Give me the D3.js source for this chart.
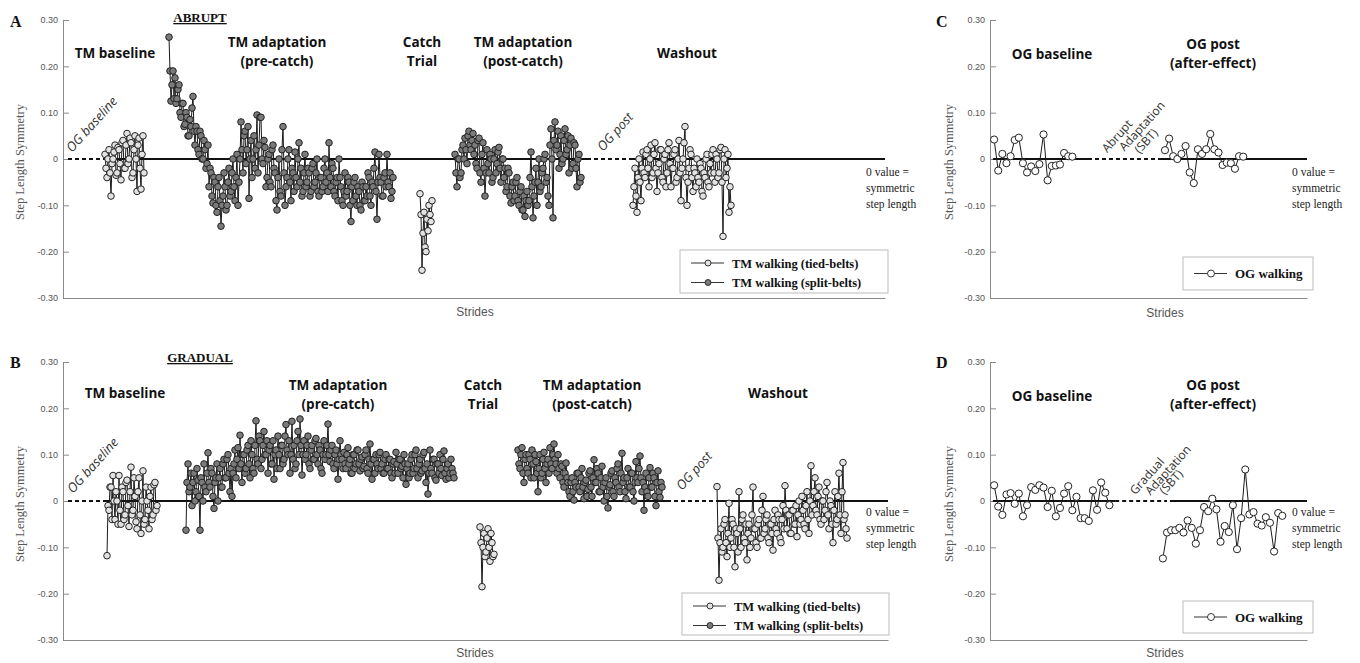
<!DOCTYPE html>
<html><head><meta charset="utf-8">
<script src="https://cdn.jsdelivr.net/npm/d3@7"></script>
<style>body{margin:0;background:#fff}svg{display:block}</style>
</head><body><svg id="c" width="1360" height="663"></svg>
<script>
// ---------- tick labels ----------
const yTicks = [0.30, 0.20, 0.10, 0, -0.10, -0.20, -0.30];
const yTickLabels = ["0.30", "0.20", "0.10", "0", "-0.10", "-0.20", "-0.30"];

// ---------- Panel A (abrupt), stride index where each block starts ----------
const aStarts = {baseline: 42, adapt: 106, catchT: 357, post: 392, washout: 570};
const aBaseline = [0.01,-0.02,-0.04,0.0,0.02,-0.03,-0.08,-0.01,0.0,0.015,0.03,-0.035,-0.03,0.025,0.02,-0.01,-0.045,0.035,0.04,-0.02,
  -0.02,0.03,0.055,-0.01,0.0,0.045,0.035,-0.04,-0.03,0.02,0.05,0.0,-0.07,0.03,0.045,-0.02,-0.065,0.01,0.05,-0.03];
const aAdapt = [0.263,0.19,0.125,0.16,0.19,0.13,0.175,0.12,0.13,0.15,0.16,0.1,0.09,0.12,0.12,0.07,0.075,0.1,0.09,0.05,
  0.05,0.085,0.07,0.11,0.135,0.06,0.03,0.07,0.06,0.02,0.01,0.06,0.05,0.0,0.0,0.04,0.02,-0.02,-0.01,0.03,
  -0.06,-0.02,-0.03,-0.08,-0.095,-0.04,-0.05,-0.1,-0.115,-0.06,-0.04,-0.09,-0.145,-0.1,-0.08,-0.03,-0.06,-0.11,-0.1,-0.05,
  -0.02,-0.08,-0.07,-0.03,0.0,-0.06,-0.09,-0.04,0.01,-0.1,-0.05,0.0,0.08,0.02,-0.03,0.05,0.06,-0.01,0.02,0.07,
  -0.085,0.0,0.04,-0.04,0.0,0.05,-0.02,0.02,0.095,-0.03,0.03,0.09,0.09,0.0,-0.01,0.04,0.025,-0.06,-0.04,0.0,
  0.01,-0.05,-0.06,0.02,0.03,-0.02,-0.03,-0.09,-0.11,-0.04,0.0,-0.07,-0.08,0.02,0.07,-0.03,-0.1,-0.06,-0.04,0.0,
  0.02,-0.05,-0.09,-0.02,-0.03,-0.07,0.015,-0.04,-0.06,0.0,0.035,-0.05,-0.02,-0.08,-0.07,-0.03,0.01,-0.06,-0.05,-0.02,
  -0.03,-0.08,-0.07,-0.02,-0.01,-0.06,-0.05,-0.03,0.0,-0.07,-0.08,-0.04,-0.04,-0.07,-0.06,-0.02,0.0,-0.05,-0.03,-0.07,
  0.035,-0.04,-0.06,-0.01,-0.02,-0.07,-0.08,-0.05,-0.04,-0.09,0.0,-0.04,-0.06,-0.09,-0.1,-0.07,-0.03,-0.08,-0.07,-0.04,
  -0.05,-0.1,-0.135,-0.06,-0.09,-0.05,-0.04,-0.08,-0.1,-0.06,-0.07,-0.1,-0.11,-0.05,-0.06,-0.09,-0.09,-0.06,-0.08,-0.03,
  -0.04,-0.08,-0.1,-0.05,-0.06,-0.02,0.015,-0.07,-0.13,-0.05,0.01,-0.04,-0.05,-0.08,-0.08,-0.04,-0.03,-0.06,0.01,-0.05,
  -0.06,-0.03,-0.085,-0.07,-0.04];
const aCatch = [-0.075,-0.12,-0.24,-0.16,-0.115,-0.19,-0.2,-0.13,-0.155,-0.1,-0.12,-0.135,-0.09];
const aPost = [0.01,-0.03,-0.06,0.0,0.0,-0.04,-0.03,0.02,0.03,0.0,0.045,0.02,-0.01,0.05,0.06,0.03,0.02,0.04,0.055,0.01,
  0.03,-0.01,-0.02,0.04,0.045,-0.03,-0.05,0.01,0.035,-0.02,-0.08,-0.03,0.02,-0.01,-0.03,0.01,0.0,-0.05,-0.04,0.0,
  0.02,-0.03,-0.01,0.015,0.025,-0.02,-0.05,0.0,0.0,-0.04,-0.02,-0.07,-0.06,-0.02,-0.03,-0.08,-0.095,-0.06,-0.05,-0.09,
  -0.08,-0.05,-0.04,-0.09,-0.1,-0.07,-0.06,-0.11,-0.11,-0.08,-0.124,-0.09,-0.07,-0.1,-0.09,-0.04,0.015,-0.06,-0.127,-0.08,
  -0.05,-0.02,-0.1,-0.05,0.0,-0.07,-0.06,-0.03,-0.02,0.0,0.01,-0.05,-0.04,-0.08,-0.1,0.03,0.065,0.0,-0.127,0.04,
  0.08,0.02,0.03,0.06,-0.02,0.01,0.05,-0.01,0.0,0.04,0.065,0.01,0.02,0.05,-0.03,0.03,0.045,-0.02,-0.01,0.035,
  0.03,-0.02,-0.06,0.0,0.01,-0.05,-0.04];
const aWashout = [-0.1,-0.06,-0.02,-0.08,-0.115,-0.04,0.0,-0.05,-0.09,-0.02,0.015,-0.03,-0.04,0.01,0.02,-0.02,-0.06,0.0,0.03,-0.04,
  -0.03,0.01,0.035,-0.02,-0.07,-0.03,-0.01,0.02,0.02,-0.04,-0.05,0.0,0.01,-0.06,-0.03,0.02,0.035,-0.01,-0.06,-0.02,
  -0.02,0.01,0.02,-0.05,-0.04,0.0,0.04,-0.03,-0.09,-0.02,0.0,0.035,0.07,-0.04,-0.1,-0.05,-0.02,0.02,0.01,-0.04,
  -0.07,-0.02,-0.03,-0.06,0.0,-0.04,-0.05,-0.01,-0.02,-0.07,-0.08,-0.03,-0.04,0.0,0.01,-0.05,-0.06,-0.01,-0.03,0.01,
  0.02,-0.03,-0.05,0.01,0.0,-0.04,-0.03,0.02,0.025,-0.05,-0.167,0.0,0.02,-0.04,-0.02,0.01,-0.115,-0.06,-0.1];

// ---------- Panel B (gradual) ----------
const bStarts = {baseline: 44, adapt: 123, catchT: 417, post: 455, washout: 654};
const bBaseline = [-0.118,-0.01,-0.02,0.03,0.03,-0.04,0.055,0.0,-0.04,0.02,0.0,-0.05,0.055,-0.02,-0.05,0.03,0.02,-0.04,-0.03,0.04,
  0.045,-0.01,-0.055,0.02,0.073,-0.03,-0.02,0.05,0.01,-0.045,-0.06,0.02,0.05,-0.03,-0.07,0.0,0.065,-0.05,-0.04,0.03,
  0.0,-0.02,-0.06,0.01,0.03,-0.04,-0.03,0.035,0.04,-0.02,-0.01];
const bAdapt = [-0.063,0.04,0.08,0.02,0.03,0.06,-0.01,0.04,0.06,0.0,0.02,0.07,0.045,0.01,-0.063,0.05,0.04,0.0,0.08,0.03,
  0.02,0.06,0.104,0.04,0.03,0.07,0.06,0.01,-0.016,0.04,0.05,0.08,0.0,0.05,0.07,0.03,0.03,0.08,0.09,0.05,
  0.05,0.09,0.1,0.06,0.02,0.07,0.01,0.06,0.08,0.11,0.05,0.09,0.115,0.07,0.142,0.08,0.04,0.1,0.1,0.06,
  0.07,0.11,0.12,0.08,0.05,0.13,0.1,0.07,0.06,0.12,0.173,0.09,0.08,0.14,0.13,0.07,0.09,0.12,0.15,0.1,
  0.1,0.13,0.06,0.11,0.12,0.08,0.08,0.13,0.047,0.1,0.11,0.07,0.14,0.1,0.07,0.12,0.12,0.08,0.09,0.14,
  0.165,0.11,0.1,0.13,0.06,0.1,0.172,0.09,0.12,0.07,0.08,0.13,0.15,0.1,0.177,0.12,0.056,0.1,0.13,0.09,
  0.1,0.12,0.14,0.08,0.07,0.11,0.12,0.09,0.09,0.13,0.135,0.1,0.08,0.12,0.11,0.07,0.06,0.1,0.13,0.09,
  0.1,0.12,0.166,0.1,0.085,0.11,0.12,0.08,0.07,0.1,0.11,0.08,0.047,0.09,0.13,0.1,0.09,0.07,0.105,0.08,
  0.07,0.1,0.115,0.08,0.09,0.06,0.06,0.1,0.1,0.07,0.08,0.11,0.11,0.08,0.065,0.09,0.095,0.07,0.075,0.1,
  0.11,0.07,0.06,0.09,0.123,0.08,0.047,0.09,0.09,0.06,0.1,0.08,0.07,0.1,0.105,0.07,0.08,0.06,0.06,0.09,
  0.1,0.07,0.07,0.09,0.09,0.06,0.05,0.08,0.085,0.06,0.105,0.08,0.06,0.09,0.09,0.07,0.075,0.05,0.1,0.08,
  0.036,0.07,0.08,0.05,0.06,0.09,0.1,0.06,0.07,0.1,0.11,0.07,0.05,0.08,0.09,0.06,0.065,0.1,0.105,0.07,
  0.04,0.08,0.015,0.06,0.11,0.07,0.06,0.09,0.09,0.05,0.045,0.08,0.08,0.06,0.1,0.07,0.055,0.09,0.108,0.06,
  0.047,0.07,0.08,0.05,0.06,0.09,0.07,0.06,0.05];
const bCatch = [-0.056,-0.09,-0.185,-0.1,-0.07,-0.12,-0.11,-0.08,-0.06,-0.1,-0.13,-0.07,-0.09,-0.12,-0.115];
const bPost = [0.11,0.08,0.07,0.1,0.115,0.06,0.04,0.09,0.1,0.07,0.06,0.1,0.09,0.05,0.11,0.08,0.05,0.1,0.085,0.06,
  0.02,0.07,0.1,0.05,0.06,0.09,0.105,0.07,0.04,0.08,0.09,0.06,0.115,0.08,0.07,0.1,0.123,0.09,0.08,0.06,
  0.1,0.07,0.05,0.08,0.075,0.04,0.03,0.06,0.082,0.05,0.04,0.02,0.01,0.04,0.05,0.02,0.002,0.04,0.03,0.06,
  0.06,0.03,0.02,0.05,0.07,0.03,0.005,0.04,0.045,0.01,0.025,0.06,0.065,0.03,0.01,0.05,0.089,0.04,0.04,0.07,
  0.06,0.02,0.02,0.05,0.075,0.03,0.0,0.04,0.05,0.01,-0.015,0.03,0.035,0.06,0.065,0.02,0.01,0.05,0.04,0.07,
  0.08,0.03,0.02,0.06,0.103,0.04,0.05,0.02,0.005,0.05,0.07,0.03,0.03,0.06,0.06,0.02,0.0,0.04,0.085,0.05,
  0.04,0.07,0.097,0.05,0.02,0.04,-0.02,0.03,0.06,0.02,0.01,0.05,0.072,0.03,0.03,0.06,0.05,0.01,-0.01,0.04,
  0.065,0.02,0.008,0.04,0.03];
const bWashout = [0.031,-0.08,-0.171,-0.09,-0.06,-0.11,-0.1,-0.05,-0.04,-0.09,-0.12,-0.07,-0.005,-0.1,-0.08,-0.04,-0.05,-0.1,-0.142,-0.06,
  -0.07,-0.11,0.02,-0.06,-0.1,-0.04,-0.03,-0.08,-0.09,-0.05,-0.127,-0.07,-0.05,-0.1,-0.08,-0.03,0.03,-0.06,-0.06,-0.09,
  -0.1,-0.05,-0.04,-0.08,-0.08,-0.02,0.01,-0.07,-0.06,-0.04,-0.03,-0.08,-0.09,-0.05,-0.05,-0.07,-0.106,-0.04,-0.02,-0.06,
  -0.07,-0.03,-0.04,-0.08,-0.09,-0.04,-0.01,-0.06,0.033,-0.02,-0.06,-0.03,-0.03,-0.07,-0.07,-0.02,-0.02,-0.05,-0.05,-0.01,
  -0.077,-0.03,0.0,-0.05,-0.04,0.01,-0.02,-0.05,-0.06,-0.01,0.02,-0.04,-0.07,0.0,0.076,-0.03,-0.01,0.02,0.05,-0.02,
  -0.03,0.01,0.03,-0.04,-0.05,0.0,0.0,-0.04,-0.02,0.02,0.04,-0.03,-0.06,0.0,-0.01,-0.05,-0.09,-0.02,0.02,-0.05,
  -0.04,0.01,0.06,-0.03,-0.07,0.02,0.083,-0.04,-0.03,-0.06,-0.08];

// ---------- Panels C and D (overground) ----------
const cStarts = {baseline: 1, post: 42.5};
const cBaseline = [0.042,-0.025,0.011,-0.009,0.006,0.041,0.046,-0.009,-0.029,-0.016,-0.026,-0.011,0.053,-0.046,-0.015,-0.014,-0.012,0.013,0.006,0.005];
const cPost = [0.019,0.044,0.006,0.0,0.011,0.028,-0.029,-0.052,0.021,0.011,0.021,0.054,0.021,0.014,-0.013,-0.008,-0.009,-0.021,0.006,0.005];
const dStarts = {baseline: 1, post: 42};
const dBaseline = [0.034,-0.012,-0.03,0.014,0.017,-0.006,0.016,-0.033,-0.009,0.03,0.024,0.034,0.029,-0.013,0.022,-0.033,-0.015,0.016,0.032,-0.02,0.009,-0.037,-0.037,-0.043,0.023,-0.019,0.04,0.018,-0.009];
const dPost = [-0.124,-0.068,-0.063,-0.063,-0.058,-0.068,-0.042,-0.058,-0.092,-0.063,-0.013,-0.022,0.005,-0.018,-0.088,-0.054,-0.067,-0.009,-0.104,-0.037,0.068,-0.029,-0.024,-0.049,-0.053,-0.035,-0.047,-0.109,-0.026,-0.032];

// zero-reference segments in stride units [from, to, dashed]
const aZero = [[5,42,true],[42,524,false],[524,570,true],[570,822,false]];
const bZero = [[5,41,true],[41,604,false],[604,654,true],[654,825,false]];
const cZero = [[0.7,23.8,false],[23.8,41.3,true],[41.3,77,false]];
const dZero = [[0.7,30.4,false],[30.4,43,true],[43.7,77,false]];

// ---------- drawing ----------
const svg = d3.select("#c");
const SERIF = "'Liberation Serif','Times New Roman',serif";
const SANS = "'Liberation Sans',Arial,sans-serif";
const HEAD = "'Open Sans','Noto Sans',sans-serif";
const FILL_TIED = "#e2e2e2", FILL_SPLIT = "#7a7a7a", FILL_OG = "#ffffff";

function axes(x, y, yLabelX, stridesX, stridesY) {
  const g = svg.append("g").attr("transform", `translate(${x.range()[0]},0)`);
  g.call(d3.axisLeft(y).tickValues(yTicks).tickFormat((d, i) => yTickLabels[i])
    .tickSizeInner(-6).tickSizeOuter(0).tickPadding(5));
  g.select(".domain").attr("stroke", "#8a8a8a");
  g.selectAll(".tick line").attr("stroke", "#8a8a8a");
  g.selectAll(".tick text").attr("fill", "#555").style("font-family", SANS).style("font-size", "9px");
  const gx = svg.append("g").attr("transform", `translate(0,${y.range()[0]})`);
  gx.call(d3.axisBottom(x).tickValues([]).tickSizeOuter(0));
  gx.select(".domain").attr("stroke", "#8a8a8a").attr("stroke-width", 1.2);
  const cy = (y.range()[0] + y.range()[1]) / 2 + 3;
  svg.append("text").attr("transform", `translate(${yLabelX},${cy}) rotate(-90)`)
    .attr("text-anchor", "middle").attr("fill", "#555")
    .style("font-family", SERIF).style("font-size", "12.5px").text("Step Length Symmetry");
  svg.append("text").attr("x", stridesX).attr("y", stridesY)
    .attr("text-anchor", "middle").attr("fill", "#555")
    .style("font-family", SANS).style("font-size", "12px").text("Strides");
}

function zero(x, y, segs) {
  segs.forEach(([a, b, dashed]) => {
    svg.append("line").attr("x1", x(a)).attr("x2", x(b)).attr("y1", y(0)).attr("y2", y(0))
      .attr("stroke", "#111").attr("stroke-width", 2)
      .attr("stroke-dasharray", dashed ? "4,3" : null);
  });
}

function series(x, y, vals, start, fill, r) {
  const pts = vals.map((v, i) => [x(start + i), y(v)]);
  svg.append("path").attr("d", d3.line()(pts)).attr("fill", "none")
    .attr("stroke", "#1a1a1a").attr("stroke-width", 1);
  svg.append("g").selectAll("circle").data(pts).join("circle")
    .attr("cx", d => d[0]).attr("cy", d => d[1]).attr("r", r)
    .attr("fill", fill).attr("stroke", "#222").attr("stroke-width", 1);
}

function text(x, y, s, opts = {}) {
  return svg.append("text").attr("x", x).attr("y", y).text(s)
    .attr("text-anchor", opts.anchor || "middle").attr("fill", opts.fill || "#111")
    .style("font-family", opts.font || HEAD).style("font-size", (opts.size || 13.5) + "px")
    .style("font-weight", opts.weight || "bold").style("font-style", opts.style || "normal")
    .attr("text-decoration", opts.deco || null);
}

function rotText(cx, cy, s, angle, size, anchor, italic) {
  svg.append("text").attr("transform", `translate(${cx},${cy}) rotate(${angle})`)
    .attr("text-anchor", anchor || "middle").attr("dy", anchor === "start" ? null : "0.35em").attr("fill", "#333")
    .style("font-family", HEAD).style("font-size", size + "px").style("font-style", italic ? "italic" : "normal").text(s);
}

function zeroNote(x0, y0) {
  ["0 value =", "symmetric", "step length"].forEach((s, i) =>
    text(x0, y0 + i * 16, s, {anchor: "start", font: SERIF, weight: "normal", size: 11.5, fill: "#222"}));
}

function legend(x0, y0, w, h, items) {
  svg.append("rect").attr("x", x0).attr("y", y0).attr("width", w).attr("height", h)
    .attr("fill", "#fff").attr("stroke", "#bbb").attr("stroke-width", 1);
  items.forEach((it, i) => {
    const cy = y0 + (items.length === 1 ? h / 2 : 13 + i * 19.5);
    svg.append("line").attr("x1", x0 + 11).attr("x2", x0 + 44).attr("y1", cy).attr("y2", cy)
      .attr("stroke", "#333").attr("stroke-width", 1);
    svg.append("circle").attr("cx", x0 + 28).attr("cy", cy).attr("r", items.length === 1 ? 3.5 : 3)
      .attr("fill", it.fill).attr("stroke", "#222").attr("stroke-width", 0.9);
    text(x0 + 52, cy + 4.5, it.label, {anchor: "start", font: SERIF, size: items.length === 1 ? 13 : 12.5});
  });
}

// ===== Panel A =====
const xA = d3.scaleLinear().domain([0, 822]).range([63, 885]);
const yTop = d3.scaleLinear().domain([-0.3, 0.3]).range([298, 20]);
axes(xA, yTop, 24, 475, 316);
zero(xA, yTop, aZero);
series(xA, yTop, aBaseline, aStarts.baseline, FILL_TIED, 3.3);
series(xA, yTop, aAdapt, aStarts.adapt, FILL_SPLIT, 3.3);
series(xA, yTop, aCatch, aStarts.catchT, FILL_TIED, 3.3);
series(xA, yTop, aPost, aStarts.post, FILL_SPLIT, 3.3);
series(xA, yTop, aWashout, aStarts.washout, FILL_TIED, 3.3);
text(10, 27, "A", {anchor: "start", font: SERIF, size: 16});
text(200, 22, "ABRUPT", {font: SERIF, size: 13, deco: "underline"});
text(115, 58, "TM baseline");
text(277, 47, "TM adaptation"); text(277, 66, "(pre-catch)");
text(422, 47, "Catch"); text(422, 66, "Trial");
text(523, 47, "TM adaptation"); text(523, 66, "(post-catch)");
text(687, 58, "Washout");
rotText(72, 153, "OG baseline", -48, 13, "start", true);
rotText(603, 152, "OG post", -48, 13, "start", true);
zeroNote(866, 176);
legend(680, 250, 208, 43, [{fill: FILL_TIED, label: "TM  walking (tied-belts)"}, {fill: FILL_SPLIT, label: "TM  walking (split-belts)"}]);

// ===== Panel B =====
const xB = d3.scaleLinear().domain([0, 825]).range([63, 888]);
const yBot = d3.scaleLinear().domain([-0.3, 0.3]).range([640, 362]);
axes(xB, yBot, 24, 475, 657);
zero(xB, yBot, bZero);
series(xB, yBot, bBaseline, bStarts.baseline, FILL_TIED, 3.3);
series(xB, yBot, bAdapt, bStarts.adapt, FILL_SPLIT, 3.3);
series(xB, yBot, bCatch, bStarts.catchT, FILL_TIED, 3.3);
series(xB, yBot, bPost, bStarts.post, FILL_SPLIT, 3.3);
series(xB, yBot, bWashout, bStarts.washout, FILL_TIED, 3.3);
text(10, 368, "B", {anchor: "start", font: SERIF, size: 16});
text(200, 362, "GRADUAL", {font: SERIF, size: 13, deco: "underline"});
text(125, 398, "TM baseline");
text(338, 390, "TM adaptation"); text(338, 409, "(pre-catch)");
text(483, 390, "Catch"); text(483, 409, "Trial");
text(592, 390, "TM adaptation"); text(592, 409, "(post-catch)");
text(778, 398, "Washout");
rotText(73, 494, "OG baseline", -48, 13, "start", true);
rotText(682, 491, "OG post", -48, 13, "start", true);
zeroNote(866, 516);
legend(682, 593, 207, 42, [{fill: FILL_TIED, label: "TM  walking (tied-belts)"}, {fill: FILL_SPLIT, label: "TM  walking (split-belts)"}]);

// ===== Panel C =====
const xC = d3.scaleLinear().domain([0, 77]).range([990, 1307]);
axes(xC, yTop, 953, 1165, 317);
zero(xC, yTop, cZero);
series(xC, yTop, cBaseline, cStarts.baseline, FILL_OG, 3.6);
series(xC, yTop, cPost, cStarts.post, FILL_OG, 3.6);
text(936, 27, "C", {anchor: "start", font: SERIF, size: 16});
text(1052, 59, "OG baseline");
text(1213, 49, "OG post"); text(1213, 68, "(after-effect)");
rotText(1117, 136, "Abrupt", -48, 12);
rotText(1142, 126, "Adaptation", -48, 12);
rotText(1146, 141, "(SBT)", -48, 12);
zeroNote(1292, 176);
legend(1183, 257, 130, 33, [{fill: FILL_OG, label: "OG walking"}]);

// ===== Panel D =====
axes(xC, yBot, 953, 1165, 657);
zero(xC, yBot, dZero);
series(xC, yBot, dBaseline, dStarts.baseline, FILL_OG, 3.6);
series(xC, yBot, dPost, dStarts.post, FILL_OG, 3.6);
text(936, 368, "D", {anchor: "start", font: SERIF, size: 16});
text(1052, 401, "OG baseline");
text(1213, 390, "OG post"); text(1213, 409, "(after-effect)");
rotText(1147, 476, "Gradual", -48, 12);
rotText(1168, 470, "Adaptation", -48, 12);
rotText(1171, 482, "(SBT)", -48, 12);
zeroNote(1292, 516);
legend(1183, 601, 130, 32, [{fill: FILL_OG, label: "OG walking"}]);
</script>
</body></html>
